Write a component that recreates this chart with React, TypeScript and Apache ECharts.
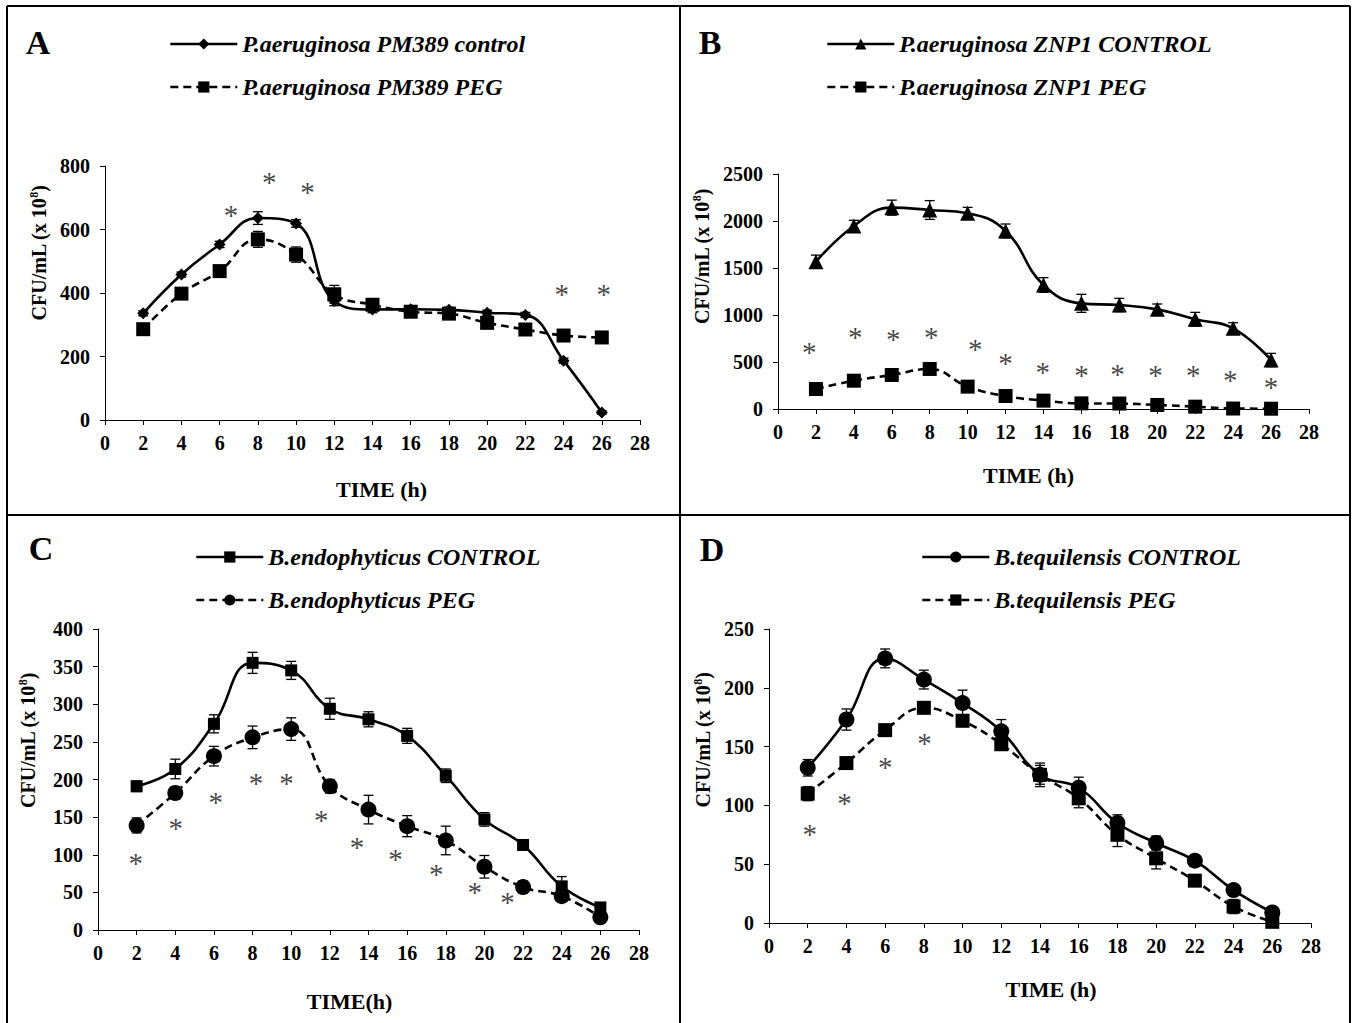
import React, { useEffect, useRef } from "react";
import * as echarts from "echarts";

// ---------- data ----------
const TIMES = [2, 4, 6, 8, 10, 12, 14, 16, 18, 20, 22, 24, 26];

// Panel A
const A_CONTROL_NAME = "P.aeruginosa PM389 control";
const A_PEG_NAME = "P.aeruginosa PM389 PEG";
const A_CONTROL = [336, 458, 553, 636, 619, 375, 348, 349, 347, 338, 331, 187, 24];
const A_CONTROL_ERR = [8, 8, 10, 20, 12, 15, 10, 8, 8, 8, 8, 8, 5];
const A_PEG = [286, 398, 469, 569, 521, 396, 363, 341, 335, 306, 285, 266, 260];
const A_PEG_ERR = [8, 10, 12, 25, 24, 28, 15, 12, 10, 10, 10, 8, 8];
const A_STARS = [[6.6, 668], [8.6, 772], [10.6, 740], [23.9, 419], [26.1, 419]];

// Panel B
const B_CONTROL_NAME = "P.aeruginosa ZNP1 CONTROL";
const B_PEG_NAME = "P.aeruginosa ZNP1 PEG";
const B_CONTROL = [1567, 1947, 2142, 2117, 2082, 1894, 1319, 1124, 1106, 1060, 954, 858, 521];
const B_CONTROL_ERR = [70, 60, 80, 100, 63, 74, 78, 96, 71, 57, 74, 60, 71];
const B_PEG = [213, 301, 362, 426, 238, 138, 89, 60, 58, 43, 25, 5, 3];
const B_PEG_ERR = [25, 25, 30, 30, 25, 20, 15, 10, 10, 10, 8, 5, 5];
const B_STARS = [[1.65, 681], [4.07, 840], [6.08, 823], [8.08, 840], [10.4, 709], [12.0, 567], [13.96, 468], [16.0, 433], [17.9, 450], [19.9, 433], [21.9, 433], [23.85, 380], [26.0, 309]];

// Panel C
const C_CONTROL_NAME = "B.endophyticus CONTROL";
const C_PEG_NAME = "B.endophyticus PEG";
const C_CONTROL = [191, 214, 274, 355, 345, 294, 280, 258, 205, 147, 113, 58, 30];
const C_CONTROL_ERR = [7, 13, 12, 14, 12, 14, 10, 10, 9, 9, 5, 13, 5];
const C_PEG = [139, 182, 231, 256, 267, 191, 160, 138, 119, 84, 57, 45, 17];
const C_PEG_ERR = [10, 8, 13, 15, 15, 9, 19, 14, 19, 15, 8, 5, 3];
const C_STARS = [[1.95, 99], [4.02, 145], [6.09, 180], [8.18, 205], [9.75, 205], [11.55, 155], [13.4, 120], [15.4, 103], [17.5, 84], [19.5, 60], [21.2, 46]];

// Panel D
const D_CONTROL_NAME = "B.tequilensis CONTROL";
const D_PEG_NAME = "B.tequilensis PEG";
const D_CONTROL = [132, 173, 225, 207, 187, 163, 126, 115, 85, 68, 53, 28, 9];
const D_CONTROL_ERR = [7, 9, 8, 8, 11, 10, 8, 9, 7, 6, 3, 3, 3];
const D_PEG = [110, 136, 164, 183, 172, 152, 126, 106, 75, 55, 36, 14, 1];
const D_PEG_ERR = [6, 4, 4, 5, 5, 5, 10, 8, 10, 9, 4, 6, 2];
const D_STARS = [[2.1, 82], [3.9, 108], [6.0, 139], [8.03, 159]];

// axis settings
const X_MAX = 28;
const X_INTERVAL = 2;
const Y_MAX = [800, 2500, 400, 250];
const Y_INTERVAL = [200, 500, 50, 50];
const X_NAMES = ["TIME (h)", "TIME (h)", "TIME(h)", "TIME (h)"];
const Y_NAME = "CFU/mL (x 10{sup|8})";
const LETTERS = ["A", "B", "C", "D"];

// ---------- styling ----------
const FONT = "'Liberation Serif', 'Times New Roman', serif";
const INK = "#000";

const PANELS = [
  {
    grid: { left: 105, top: 166, width: 535, height: 254 },
    control: { name: A_CONTROL_NAME, vals: A_CONTROL, err: A_CONTROL_ERR, symbol: "diamond", size: 12 },
    peg: { name: A_PEG_NAME, vals: A_PEG, err: A_PEG_ERR, symbol: "rect", size: 14 },
    stars: A_STARS,
    legend: { left: 169, top: 32 },
    letter: { x: 38, y: 42 },
    yNameGap: 56, yNameShift: 80, xNameGap: 58, xNameShift: 18,
  },
  {
    grid: { left: 778, top: 174, width: 531, height: 235 },
    control: { name: B_CONTROL_NAME, vals: B_CONTROL, err: B_CONTROL_ERR, symbol: "triangle", size: 15 },
    peg: { name: B_PEG_NAME, vals: B_PEG, err: B_PEG_ERR, symbol: "rect", size: 14 },
    stars: B_STARS,
    legend: { left: 826, top: 32 },
    letter: { x: 710, y: 42 },
    yNameGap: 66, yNameShift: 70, xNameGap: 55, xNameShift: -30,
  },
  {
    grid: { left: 98, top: 629, width: 541, height: 301 },
    control: { name: C_CONTROL_NAME, vals: C_CONTROL, err: C_CONTROL_ERR, symbol: "rect", size: 12 },
    peg: { name: C_PEG_NAME, vals: C_PEG, err: C_PEG_ERR, symbol: "circle", size: 16 },
    stars: C_STARS,
    legend: { left: 195, top: 545 },
    letter: { x: 41, y: 548 },
    yNameGap: 60, yNameShift: 78, xNameGap: 60, xNameShift: -38,
  },
  {
    grid: { left: 769, top: 629, width: 542, height: 294 },
    control: { name: D_CONTROL_NAME, vals: D_CONTROL, err: D_CONTROL_ERR, symbol: "circle", size: 16 },
    peg: { name: D_PEG_NAME, vals: D_PEG, err: D_PEG_ERR, symbol: "rect", size: 14 },
    stars: D_STARS,
    legend: { left: 921, top: 545 },
    letter: { x: 712, y: 549 },
    yNameGap: 56, yNameShift: 72, xNameGap: 55, xNameShift: 22,
  },
];

function errorRenderItem(params: any, api: any) {
  const x = api.value(0);
  const lo = api.value(1);
  const hi = api.value(2);
  const pHi = api.coord([x, hi]);
  const pLo = api.coord([x, lo]);
  const w = 5;
  const style = { stroke: INK, lineWidth: 1.3 };
  return {
    type: "group",
    children: [
      { type: "line", shape: { x1: pHi[0], y1: pHi[1], x2: pLo[0], y2: pLo[1] }, style },
      { type: "line", shape: { x1: pHi[0] - w, y1: pHi[1], x2: pHi[0] + w, y2: pHi[1] }, style },
      { type: "line", shape: { x1: pLo[0] - w, y1: pLo[1], x2: pLo[0] + w, y2: pLo[1] }, style },
    ],
  };
}

function buildOption() {
  const grids: any[] = [];
  const xAxes: any[] = [];
  const yAxes: any[] = [];
  const series: any[] = [];
  const legends: any[] = [];
  const graphics: any[] = [];

  const tickLabel = {
    fontFamily: FONT, fontWeight: "bold", fontSize: 20, color: INK,
    formatter: (v: number) => String(v),
  };

  PANELS.forEach((p, i) => {
    grids.push({ ...p.grid, containLabel: false });
    xAxes.push({
      gridIndex: i,
      type: "value",
      min: 0,
      max: X_MAX,
      interval: X_INTERVAL,
      name: X_NAMES[i],
      nameLocation: "middle",
      nameGap: p.xNameGap,
      nameTextStyle: {
        fontFamily: FONT, fontWeight: "bold", fontSize: 22, color: INK,
        padding: p.xNameShift >= 0 ? [0, 0, 0, p.xNameShift] : [0, -p.xNameShift, 0, 0],
      },
      splitLine: { show: false },
      axisLine: { onZero: false, lineStyle: { color: INK, width: 1 } },
      axisTick: { length: 5, lineStyle: { color: INK, width: 1 } },
      axisLabel: { ...tickLabel, margin: 13 },
    });
    yAxes.push({
      gridIndex: i,
      type: "value",
      min: 0,
      max: Y_MAX[i],
      interval: Y_INTERVAL[i],
      name: Y_NAME,
      nameLocation: "middle",
      nameGap: p.yNameGap,
      nameTextStyle: {
        fontFamily: FONT, fontWeight: "bold", fontSize: 20, color: INK,
        padding: [0, 0, 0, p.yNameShift],
        rich: {
          sup: { fontFamily: FONT, fontWeight: "bold", fontSize: 12, color: INK, verticalAlign: "top", padding: [0, 0, 9, 0] },
        },
      },
      splitLine: { show: false },
      axisLine: { show: true, lineStyle: { color: INK, width: 1 } },
      axisTick: { show: true, length: 5, lineStyle: { color: INK, width: 1 } },
      axisLabel: { ...tickLabel, margin: 15 },
    });

    const mk = (s: any, dashed: boolean) => {
      series.push({
        name: s.name + " error",
        type: "custom",
        xAxisIndex: i,
        yAxisIndex: i,
        renderItem: errorRenderItem,
        encode: { x: 0, y: [1, 2] },
        data: TIMES.map((t, k) => [t, s.vals[k] - s.err[k], s.vals[k] + s.err[k]]),
        z: 2,
        silent: true,
      });
      series.push({
        name: s.name,
        type: "line",
        xAxisIndex: i,
        yAxisIndex: i,
        data: TIMES.map((t, k) => [t, s.vals[k]]),
        smooth: 0.45,
        symbol: s.symbol,
        symbolSize: s.size,
        showAllSymbol: true,
        lineStyle: { color: INK, width: 2.6, type: dashed ? [8, 5] : "solid" },
        itemStyle: { color: INK, borderWidth: 0 },
        z: 3,
      });
    };
    mk(p.control, false);
    mk(p.peg, true);

    series.push({
      name: LETTERS[i] + " significance",
      type: "scatter",
      xAxisIndex: i,
      yAxisIndex: i,
      data: p.stars,
      symbol: "circle",
      symbolSize: 0.1,
      itemStyle: { color: "rgba(0,0,0,0)" },
      silent: true,
      label: {
        show: true,
        position: "inside",
        formatter: "*",
        fontFamily: FONT,
        fontSize: 29,
        color: "#111",
        offset: [0, 7],
      },
      z: 4,
    });

    legends.push({
      data: [p.control.name, p.peg.name],
      orient: "vertical",
      left: p.legend.left,
      top: p.legend.top,
      itemWidth: 67,
      itemHeight: 14,
      itemGap: 19,
      padding: 0,
      selectedMode: false,
      lineStyle: { width: 2.6 },
      textStyle: {
        fontFamily: FONT, fontStyle: "italic", fontWeight: "bold", fontSize: 24,
        color: INK, lineHeight: 23,
      },
    });

    graphics.push({
      type: "text",
      x: p.letter.x,
      y: p.letter.y,
      style: {
        text: LETTERS[i],
        fontFamily: FONT,
        fontWeight: "bold",
        fontSize: 34,
        fill: INK,
        textAlign: "center",
        textVerticalAlign: "middle",
      },
    });
  });

  // frame and dividers
  const frameStyle = { stroke: INK, lineWidth: 2 };
  graphics.push(
    { type: "line", shape: { x1: 7, y1: 6, x2: 1350, y2: 6 }, style: frameStyle },
    { type: "line", shape: { x1: 7, y1: 6, x2: 7, y2: 1030 }, style: frameStyle },
    { type: "line", shape: { x1: 1350, y1: 6, x2: 1350, y2: 1030 }, style: frameStyle },
    { type: "line", shape: { x1: 680, y1: 6, x2: 680, y2: 1030 }, style: frameStyle },
    { type: "line", shape: { x1: 7, y1: 515, x2: 1350, y2: 515 }, style: frameStyle }
  );

  return {
    animation: false,
    backgroundColor: "#fff",
    grid: grids,
    xAxis: xAxes,
    yAxis: yAxes,
    legend: legends,
    series,
    graphic: graphics,
  };
}

export default function App() {
  const ref = useRef<HTMLDivElement>(null);
  useEffect(() => {
    if (!ref.current) return;
    const chart = echarts.init(ref.current, undefined, { renderer: "svg" });
    chart.setOption(buildOption() as any);
    return () => chart.dispose();
  }, []);
  return (
    <div
      ref={ref}
      style={{ position: "absolute", left: 0, top: 0, width: 1353, height: 1023, background: "#fff" }}
    />
  );
}
